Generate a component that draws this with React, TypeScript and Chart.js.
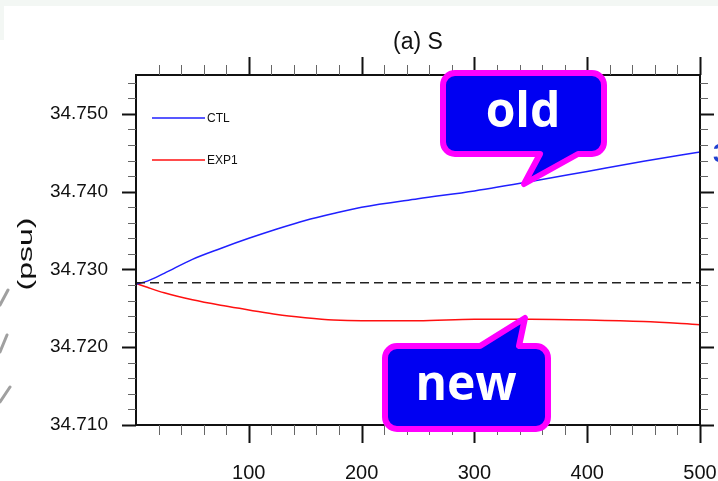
import React, { useEffect, useRef } from "react";
import { Chart, registerables } from "chart.js";

Chart.register(...registerables);

// ---- data ----
const days = [0, 10, 25, 50, 75, 100, 125, 150, 175, 200, 250, 300, 350, 400, 450, 500];
const ctl = [34.7281, 34.7285, 34.7295, 34.7313, 34.7327, 34.734, 34.7352, 34.7363, 34.7372, 34.738, 34.7391, 34.7401, 34.7413, 34.7426, 34.7439, 34.7451];
const exp1 = [34.7282, 34.7277, 34.727, 34.7261, 34.7254, 34.7248, 34.7242, 34.7238, 34.7235, 34.7234, 34.7234, 34.7236, 34.7236, 34.7235, 34.7233, 34.7229];
const refLine = [34.7283, 34.7283];
const refDays = [0, 500];
const seriesNames = ["CTL", "EXP1"];
const title = "(a) S";
const yTitle = "(psu)";
const calloutTexts = ["old", "new"];

const FONT = "'Liberation Sans', Arial, sans-serif";

function bubblePath(
  ctx: CanvasRenderingContext2D,
  x0: number, y0: number, x1: number, y1: number, r: number,
  side: "top" | "bottom", a: number, b: number, tx: number, ty: number
) {
  ctx.beginPath();
  ctx.moveTo(x0 + r, y0);
  if (side === "top") {
    ctx.lineTo(a, y0);
    ctx.lineTo(tx, ty);
    ctx.lineTo(b, y0);
  }
  ctx.lineTo(x1 - r, y0);
  ctx.arcTo(x1, y0, x1, y0 + r, r);
  ctx.lineTo(x1, y1 - r);
  ctx.arcTo(x1, y1, x1 - r, y1, r);
  if (side === "bottom") {
    ctx.lineTo(b, y1);
    ctx.lineTo(tx, ty);
    ctx.lineTo(a, y1);
  }
  ctx.lineTo(x0 + r, y1);
  ctx.arcTo(x0, y1, x0, y1 - r, r);
  ctx.lineTo(x0, y0 + r);
  ctx.arcTo(x0, y0, x0 + r, y0, r);
  ctx.closePath();
}

const decor = {
  id: "decor",
  beforeDraw(chart: any) {
    const ctx = chart.ctx as CanvasRenderingContext2D;
    ctx.save();
    ctx.fillStyle = "#f3f7f4";
    ctx.fillRect(0, 0, chart.width, chart.height);
    ctx.fillStyle = "#ffffff";
    ctx.fillRect(0, 40, chart.width, chart.height);
    ctx.fillRect(4, 6, chart.width, chart.height);
    ctx.restore();
  },
  afterDraw(chart: any) {
    const ctx = chart.ctx as CanvasRenderingContext2D;
    const { left, right, top, bottom } = chart.chartArea;
    const xs = chart.scales.x;
    const ys = chart.scales.y;
    ctx.save();

    // frame
    ctx.strokeStyle = "#111";
    ctx.lineWidth = 2;
    ctx.strokeRect(left, top, right - left, bottom - top);

    // x ticks (bottom & top, outward)
    for (let v = 20; v <= 500; v += 20) {
      const px = Math.round(xs.getPixelForValue(v)) + 0.5;
      const major = v % 100 === 0;
      const len = major ? 18 : 10;
      ctx.strokeStyle = major ? "#111" : "#666";
      ctx.lineWidth = major ? 2 : 1;
      ctx.beginPath();
      ctx.moveTo(px, bottom);
      ctx.lineTo(px, bottom + len);
      ctx.moveTo(px, top);
      ctx.lineTo(px, top - len);
      ctx.stroke();
    }
    // y ticks (left & right, outward)
    for (let k = 0; k <= 22; k++) {
      const v = 34.71 + k * 0.002;
      const py = Math.round(ys.getPixelForValue(v)) + 0.5;
      const major = k % 5 === 0;
      const len = major ? 14 : 8;
      ctx.strokeStyle = major ? "#111" : "#666";
      ctx.lineWidth = major ? 2 : 1;
      ctx.beginPath();
      ctx.moveTo(left, py);
      ctx.lineTo(left - len, py);
      ctx.moveTo(right, py);
      ctx.lineTo(right + len, py);
      ctx.stroke();
    }

    // title
    ctx.fillStyle = "#111";
    ctx.font = `23px ${FONT}`;
    ctx.textAlign = "center";
    ctx.textBaseline = "alphabetic";
    ctx.fillText(title, (left + right) / 2, 49);

    // y title (stretched like the original)
    ctx.save();
    ctx.translate(26, 254);
    ctx.rotate(-Math.PI / 2);
    ctx.scale(1.6, 1);
    ctx.font = `20px ${FONT}`;
    ctx.textAlign = "center";
    ctx.textBaseline = "middle";
    ctx.fillText(yTitle, 0, 0);
    ctx.restore();

    // legend
    const legendColors = ["#2020ff", "#ff1010"];
    const legendY = [118, 160];
    for (let i = 0; i < 2; i++) {
      ctx.strokeStyle = legendColors[i];
      ctx.lineWidth = 1.5;
      ctx.beginPath();
      ctx.moveTo(152, legendY[i]);
      ctx.lineTo(205, legendY[i]);
      ctx.stroke();
      ctx.fillStyle = "#111";
      ctx.font = `12px ${FONT}`;
      ctx.textAlign = "left";
      ctx.textBaseline = "middle";
      ctx.fillText(seriesNames[i], 207, legendY[i] + 1);
    }

    // slide decorations
    ctx.strokeStyle = "#a0a0a0";
    ctx.lineWidth = 3;
    ctx.lineCap = "round";
    ctx.beginPath();
    ctx.moveTo(0, 305); ctx.lineTo(8, 290);
    ctx.moveTo(0, 352); ctx.lineTo(7, 335);
    ctx.moveTo(0, 402); ctx.lineTo(10, 387);
    ctx.stroke();
    ctx.lineCap = "butt";
    ctx.fillStyle = "#2040d0";
    ctx.font = `bold 26px ${FONT}`;
    ctx.textAlign = "left";
    ctx.textBaseline = "alphabetic";
    ctx.fillText("3", 713, 162);

    // callouts
    ctx.lineJoin = "round";
    ctx.lineWidth = 6;
    ctx.strokeStyle = "#ff00ff";
    ctx.fillStyle = "#0000f2";
    bubblePath(ctx, 443, 73, 604, 154, 12, "bottom", 540, 578, 524, 184);
    ctx.fill();
    ctx.stroke();
    bubblePath(ctx, 385, 346, 548, 429, 12, "top", 480, 519, 525, 318);
    ctx.fill();
    ctx.stroke();

    ctx.fillStyle = "#ffffff";
    ctx.font = `bold 48px 'Open Sans', ${FONT}`;
    ctx.textAlign = "center";
    ctx.textBaseline = "alphabetic";
    ctx.fillText(calloutTexts[0], 523, 127);
    ctx.fillText(calloutTexts[1], 466, 400);

    ctx.restore();
  },
};

export default function App() {
  const ref = useRef<HTMLCanvasElement | null>(null);
  useEffect(() => {
    if (!ref.current) return;
    const chart = new Chart(ref.current, {
      type: "line",
      data: {
        datasets: [
          {
            label: "ref",
            data: refDays.map((d, i) => ({ x: d, y: refLine[i] })),
            borderColor: "#222",
            borderWidth: 1.5,
            borderDash: [9, 5],
            pointRadius: 0,
          },
          {
            label: seriesNames[0],
            data: days.map((d, i) => ({ x: d, y: ctl[i] })),
            borderColor: "#2020ff",
            borderWidth: 1.5,
            pointRadius: 0,
            cubicInterpolationMode: "monotone",
          },
          {
            label: seriesNames[1],
            data: days.map((d, i) => ({ x: d, y: exp1[i] })),
            borderColor: "#ff1010",
            borderWidth: 1.5,
            pointRadius: 0,
            cubicInterpolationMode: "monotone",
          },
        ],
      },
      options: {
        animation: false,
        responsive: false,
        events: [],
        layout: { padding: { top: 75, right: 18, left: 0, bottom: 0 } },
        plugins: { legend: { display: false }, tooltip: { enabled: false }, title: { display: false } },
        scales: {
          x: {
            type: "linear",
            min: 0,
            max: 500,
            grid: { display: false },
            border: { display: false },
            ticks: {
              stepSize: 100,
              autoSkip: false,
              maxRotation: 0,
              padding: 28,
              color: "#111",
              font: { family: FONT, size: 20 },
              callback: (v: any) => (Number(v) === 0 ? "" : String(v)),
            },
            afterFit: (s: any) => {
              s.height = 56;
              s.paddingLeft = 0;
              s.paddingRight = 0;
            },
          },
          y: {
            type: "linear",
            min: 34.71,
            max: 34.755,
            grid: { display: false },
            border: { display: false },
            ticks: {
              stepSize: 0.01,
              autoSkip: false,
              padding: 20,
              color: "#111",
              font: { family: FONT, size: 19 },
              callback: (v: any) => {
                const n = Number(v);
                return Math.abs(n * 100 - Math.round(n * 100)) < 1e-6 ? n.toFixed(3) : "";
              },
            },
            afterFit: (s: any) => {
              s.width = 136;
              s.paddingTop = 0;
              s.paddingBottom = 0;
            },
          },
        },
      },
      plugins: [decor],
    });
    return () => chart.destroy();
  }, []);
  return (
    <div style={{ position: "absolute", left: 0, top: 0, width: 718, height: 481, overflow: "hidden" }}>
      <canvas ref={ref} width={718} height={481} style={{ display: "block" }} />
    </div>
  );
}
